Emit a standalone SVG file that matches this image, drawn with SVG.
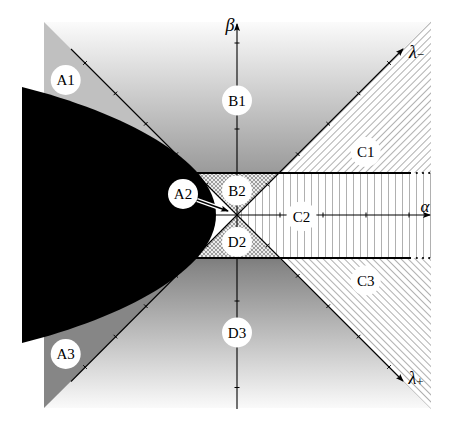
<svg xmlns="http://www.w3.org/2000/svg" width="463" height="432" viewBox="0 0 463 432">
<style>
.lbl{font-family:"Liberation Serif","DejaVu Serif",serif;font-size:15px;fill:#000;text-anchor:middle}
.math{font-family:"Liberation Serif","DejaVu Serif",serif;font-style:italic;fill:#000}
.ax{stroke:#000;stroke-width:1.1;fill:none}
.tk{stroke:#000;stroke-width:1;fill:none}
.band{stroke:#000;stroke-width:2;fill:none}
.circ{fill:#fff;stroke:none}
</style>
<defs>
<linearGradient id="gUp" x1="0" y1="22" x2="0" y2="173" gradientUnits="userSpaceOnUse">
<stop offset="0" stop-color="#fbfbfb"/><stop offset="1" stop-color="#9a9a9a"/>
</linearGradient>
<linearGradient id="gDn" x1="0" y1="258" x2="0" y2="408" gradientUnits="userSpaceOnUse">
<stop offset="0" stop-color="#7c7c7c"/><stop offset="0.06" stop-color="#868686"/><stop offset="1" stop-color="#fafafa"/>
</linearGradient>
<pattern id="pSlash" width="5" height="5" patternUnits="userSpaceOnUse" patternTransform="rotate(45)">
<rect width="5" height="5" fill="#fff"/><line x1="0.5" y1="0" x2="0.5" y2="5" stroke="#b0b0b0" stroke-width="1"/>
</pattern>
<pattern id="pBack" width="5" height="5" patternUnits="userSpaceOnUse" patternTransform="rotate(-45)">
<rect width="5" height="5" fill="#fff"/><line x1="0.5" y1="0" x2="0.5" y2="5" stroke="#b0b0b0" stroke-width="1"/>
</pattern>
<pattern id="pVert" width="7" height="7" patternUnits="userSpaceOnUse">
<rect width="7" height="7" fill="#fff"/><line x1="3.5" y1="0" x2="3.5" y2="7" stroke="#b0b0b0" stroke-width="1"/>
</pattern>
<pattern id="pX" width="4" height="4" patternUnits="userSpaceOnUse">
<rect width="4" height="4" fill="#9c9c9c"/><circle cx="0" cy="0" r="1.1" fill="#fff"/><circle cx="4" cy="0" r="1.1" fill="#fff"/><circle cx="0" cy="4" r="1.1" fill="#fff"/><circle cx="4" cy="4" r="1.1" fill="#fff"/><circle cx="2" cy="2" r="1.1" fill="#fff"/>
</pattern>
<marker id="arr" markerWidth="8" markerHeight="6" refX="7" refY="3" orient="auto" markerUnits="userSpaceOnUse">
<path d="M0,0 L8,3 L0,6 L1.5,3 Z" fill="#000"/>
</marker>
</defs>

<g id="regions">
<rect x="44" y="22" width="387" height="151" fill="url(#gUp)"/>
<rect x="44" y="258" width="387" height="150" fill="url(#gDn)"/>
<rect x="44" y="173" width="387" height="85" fill="#fff"/>
<polygon id="regA1" points="44,22 195,173 44,173" fill="#c0c0c0"/>
<polygon id="regA3" points="44,408 195,258 44,258" fill="#868686"/>
<polygon id="regB2" points="195,173 279,173 237,215" fill="url(#pX)"/>
<polygon id="regD2" points="195,258 279,258 237,215" fill="url(#pX)"/>
<polygon id="regC1" points="279,173 431,173 431,21" fill="url(#pSlash)"/>
<polygon id="regC2" points="279,173 431,173 431,258 279,258 237,215" fill="url(#pVert)"/>
<polygon id="regC3" points="279,258 431,258 431,409 430,408" fill="url(#pBack)"/>
</g>

<g id="connectors">
<g id="leftLines">
<line class="ax" x1="237" y1="215" x2="71" y2="49"/>
<line class="ax" x1="237" y1="215" x2="71" y2="381.5"/>
<g class="tk">
<line x1="204.8" y1="186.4" x2="208.4" y2="182.8"/><line x1="174.4" y1="156" x2="178" y2="152.4"/><line x1="144" y1="125.6" x2="147.6" y2="122"/><line x1="113.6" y1="95.2" x2="117.2" y2="91.6"/><line x1="83.2" y1="64.8" x2="86.8" y2="61.2"/>
<line x1="204.8" y1="243.6" x2="208.4" y2="247.2"/><line x1="174.4" y1="274" x2="178" y2="277.6"/><line x1="144" y1="304.4" x2="147.6" y2="308"/><line x1="113.6" y1="334.8" x2="117.2" y2="338.4"/><line x1="83.2" y1="365.2" x2="86.8" y2="368.8"/>
</g>
</g>
</g>

<g id="blackRegion">
<path d="M22,87 C122,112 216,160 216,215 C216,270 122,318 22,343 Z" fill="#000"/>
</g>

<g id="axes">
<line class="ax" x1="237" y1="409" x2="237" y2="24" marker-end="url(#arr)"/>
<line class="ax" x1="216" y1="215" x2="430" y2="215" marker-end="url(#arr)"/>
<line class="ax" x1="237" y1="215" x2="403" y2="49" marker-end="url(#arr)"/>
<line class="ax" x1="237" y1="215" x2="403" y2="381" marker-end="url(#arr)"/>
<g class="tk">
<line x1="234.5" y1="43" x2="239.5" y2="43"/><line x1="234.5" y1="129" x2="239.5" y2="129"/><line x1="234.5" y1="301" x2="239.5" y2="301"/><line x1="234.5" y1="387.5" x2="239.5" y2="387.5"/>
<line x1="280" y1="212.5" x2="280" y2="217.5"/><line x1="323" y1="212.5" x2="323" y2="217.5"/><line x1="366" y1="212.5" x2="366" y2="217.5"/><line x1="409" y1="212.5" x2="409" y2="217.5"/>
<line x1="265.6" y1="182.8" x2="269.2" y2="186.4"/><line x1="296" y1="152.4" x2="299.6" y2="156"/><line x1="326.4" y1="122" x2="330" y2="125.6"/><line x1="356.8" y1="91.6" x2="360.4" y2="95.2"/><line x1="387.2" y1="61.2" x2="390.8" y2="64.8"/>
<line x1="265.6" y1="247.2" x2="269.2" y2="243.6"/><line x1="296" y1="277.6" x2="299.6" y2="274"/><line x1="326.4" y1="308" x2="330" y2="304.4"/><line x1="356.8" y1="338.4" x2="360.4" y2="334.8"/><line x1="387.2" y1="368.8" x2="390.8" y2="365.2"/>
</g>
<line class="band" x1="195" y1="173" x2="411" y2="173"/>
<line class="band" x1="195" y1="258" x2="411" y2="258"/>
<g fill="#000">
<circle cx="416.8" cy="173" r="1.1"/><circle cx="423" cy="173" r="1.1"/><circle cx="429.2" cy="173" r="1.1"/>
<circle cx="416.8" cy="258" r="1.1"/><circle cx="423" cy="258" r="1.1"/><circle cx="429.2" cy="258" r="1.1"/>
</g>
<line x1="197" y1="200" x2="228" y2="211" stroke="#fff" stroke-width="4"/>
<line x1="197" y1="200" x2="228" y2="211" stroke="#000" stroke-width="1.4" marker-end="url(#arr)"/>
</g>

<g id="nodeA1"><circle class="circ" cx="65.7" cy="80" r="15"/><text class="lbl" x="65.7" y="85">A1</text></g>
<g id="nodeA2"><circle class="circ" cx="183" cy="194" r="15"/><text class="lbl" x="183" y="199">A2</text></g>
<g id="nodeA3"><circle class="circ" cx="65.7" cy="354" r="15"/><text class="lbl" x="65.7" y="359">A3</text></g>
<g id="nodeB1"><circle class="circ" cx="237" cy="100.5" r="15"/><text class="lbl" x="237" y="105.5">B1</text></g>
<g id="nodeB2"><circle class="circ" cx="237" cy="190.5" r="15"/><text class="lbl" x="237" y="195.5">B2</text></g>
<g id="nodeC1"><circle class="circ" cx="365.7" cy="152" r="15"/><text class="lbl" x="365.7" y="157">C1</text></g>
<g id="nodeC2"><circle class="circ" cx="301.5" cy="216.5" r="15"/><text class="lbl" x="301.5" y="221.5">C2</text></g>
<g id="nodeC3"><circle class="circ" cx="365.7" cy="280.5" r="15"/><text class="lbl" x="365.7" y="285.5">C3</text></g>
<g id="nodeD2"><circle class="circ" cx="237" cy="242" r="15"/><text class="lbl" x="237" y="247">D2</text></g>
<g id="nodeD3"><circle class="circ" cx="237" cy="332.5" r="15"/><text class="lbl" x="237" y="337.5">D3</text></g>

<g id="axisLabels">
<text class="math" x="230" y="31" font-size="18" text-anchor="middle">β</text>
<text class="math" x="425" y="212" font-size="17" text-anchor="middle">α</text>
<text class="math" x="409" y="58" font-size="18">λ<tspan font-style="normal" font-size="13" dy="1">−</tspan></text>
<text class="math" x="408.5" y="384" font-size="18">λ<tspan font-style="normal" font-size="13" dy="2">+</tspan></text>
</g>
</svg>
